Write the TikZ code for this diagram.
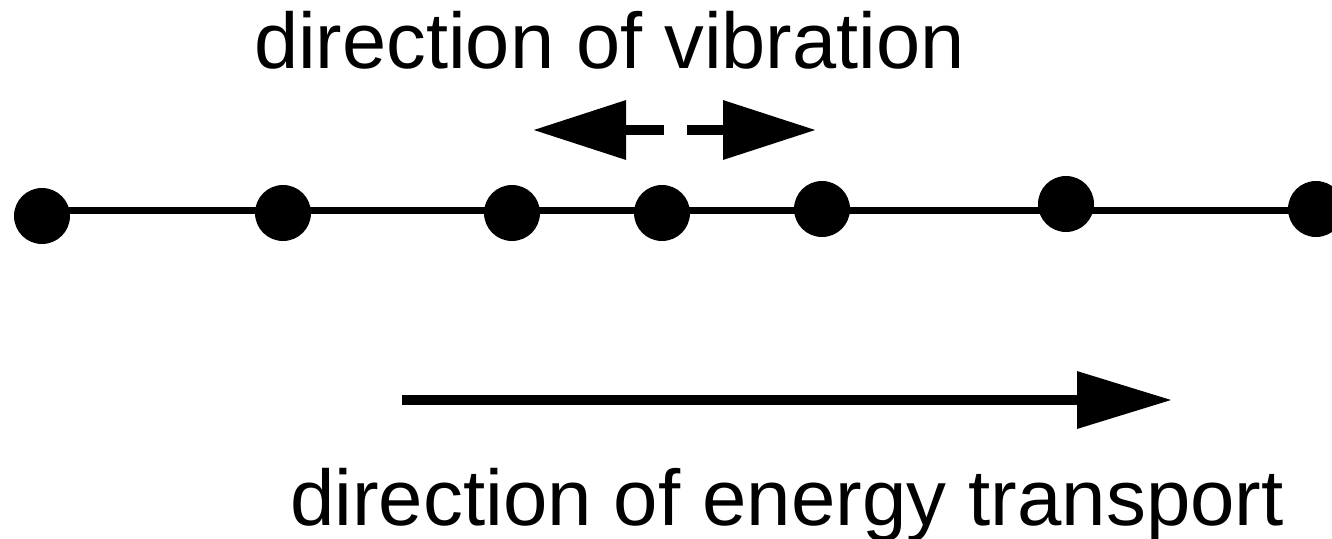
\documentclass[tikz,border=0pt]{standalone}
\usepackage{fontspec}
\setmainfont{Liberation Sans}
\usetikzlibrary{arrows.meta}
\begin{document}
\begin{tikzpicture}[x=1pt,y=-1pt,
  dot/.style={circle,fill=black,inner sep=0pt,minimum size=56pt},
  lbl/.style={inner sep=0pt,anchor=base west,font=\fontsize{79pt}{95pt}\selectfont},
  chain/.style={line width=7pt},
  vib/.style={line width=10pt,-{Triangle[length=93pt,width=57pt]}},
  energy/.style={line width=10pt,-{Triangle[length=95pt,width=55pt]}}]
\useasboundingbox (0,0) rectangle (1332,538);
\coordinate (l1) at (42,210);
\coordinate (l7) at (1340,210);
\draw[chain] (l1) -- (l7);
\node[dot] (d1) at (42,216) {};
\node[dot] (d2) at (283,213) {};
\node[dot] (d3) at (512,213) {};
\node[dot] (d4) at (662,213) {};
\node[dot] (d5) at (822,209) {};
\node[dot] (d6) at (1066,204) {};
\node[dot] (d7) at (1316,209) {};
\coordinate (va) at (664,130);
\coordinate (vb) at (533,130);
\coordinate (vc) at (687,130);
\coordinate (vd) at (816,130);
\draw[vib] (va) -- (vb);
\draw[vib] (vc) -- (vd);
\coordinate (ea) at (402,400);
\coordinate (eb) at (1172,400);
\draw[energy] (ea) -- (eb);
\node[lbl,xscale=1.005] (t1) at (254,68) {direction of vibration};
\node[lbl,xscale=1.01] (t2) at (290,525) {direction of energy transport};
\end{tikzpicture}
\end{document}
